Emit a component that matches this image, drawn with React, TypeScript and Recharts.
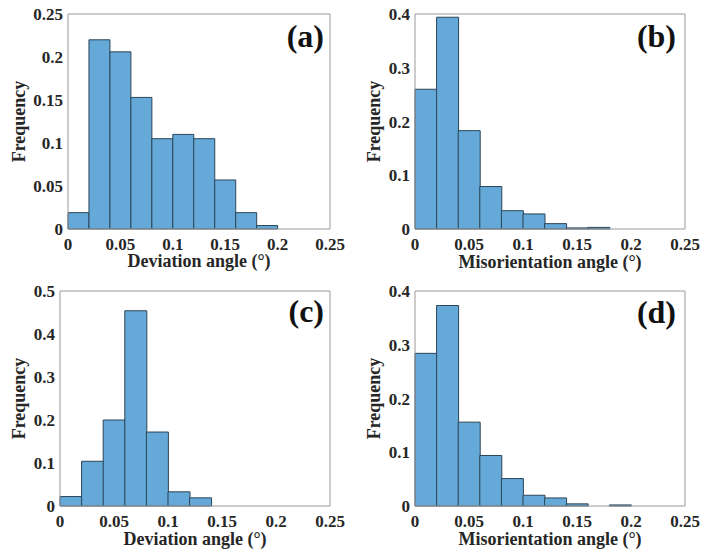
import { BarChart, Bar, XAxis, YAxis, Label } from 'recharts';

// histogram bins are 0.02 wide, values are bin frequencies
const binCenters = [0.01, 0.03, 0.05, 0.07, 0.09, 0.11, 0.13, 0.15, 0.17, 0.19];
const freqA = [0.019, 0.22, 0.206, 0.153, 0.105, 0.11, 0.105, 0.057, 0.019, 0.004];
const freqB = [0.26, 0.394, 0.183, 0.079, 0.034, 0.028, 0.01, 0.002, 0.003, 0];
const freqC = [0.022, 0.104, 0.2, 0.454, 0.172, 0.033, 0.019, 0, 0, 0];
const freqD = [0.284, 0.373, 0.156, 0.094, 0.051, 0.02, 0.015, 0.004, 0, 0.002];

const xTicks = [0, 0.05, 0.1, 0.15, 0.2, 0.25];
const yTicksA = [0, 0.05, 0.1, 0.15, 0.2, 0.25];
const yTicksB = [0, 0.1, 0.2, 0.3, 0.4];
const yTicksC = [0, 0.1, 0.2, 0.3, 0.4, 0.5];

const FONT = "'Liberation Serif', 'Times New Roman', serif";
const BOX = '#9a9a9a';
const TEXT = '#262626';
const FILL = '#64a9d8';
const EDGE = '#2c4558';

const toRows = (values: number[]) => binCenters.map((x, i) => ({ x, f: values[i] }));

interface PanelProps {
  values: number[];
  yTicks: number[];
  xLabel: string;
  left: number;
  top: number;
  height: number;
  plotLeft: number;
  plotRight: number;
  plotTop: number;
  plotBottom: number;
  yLabelOffset: number;
  xLabelOffset: number;
}

function Panel(p: PanelProps) {
  const width = 351;
  const yMax = p.yTicks[p.yTicks.length - 1];
  const tickStyle = { fontSize: 17, fontWeight: 'bold', fill: TEXT, fontFamily: FONT };
  const labelStyle = { fontSize: 18, fontWeight: 'bold', fill: TEXT, fontFamily: FONT };
  return (
    <div style={{ position: 'absolute', left: p.left, top: p.top }}>
      <BarChart
        width={width}
        height={p.height}
        data={toRows(p.values)}
        barCategoryGap={0}
        margin={{ top: p.plotTop, right: width - p.plotRight, bottom: 0, left: 0 }}
      >
        <XAxis
          dataKey="x"
          type="number"
          domain={[0, 0.25]}
          ticks={xTicks}
          height={p.height - p.plotBottom}
          tickLine={false}
          tickSize={0}
          tickMargin={9}
          axisLine={{ stroke: BOX }}
          tick={tickStyle}
        >
          <Label value={p.xLabel} position="insideBottom" offset={p.xLabelOffset} style={labelStyle} />
        </XAxis>
        <XAxis xAxisId="top" type="number" orientation="top" mirror domain={[0, 0.25]} ticks={xTicks}
          tick={false} tickSize={3} axisLine={{ stroke: BOX }} tickLine={{ stroke: BOX }} />
        <XAxis xAxisId="bottomTicks" type="number" orientation="bottom" mirror domain={[0, 0.25]} ticks={xTicks}
          tick={false} tickSize={3} axisLine={false} tickLine={{ stroke: BOX }} />
        <YAxis
          type="number"
          domain={[0, yMax]}
          ticks={p.yTicks}
          width={p.plotLeft}
          tickLine={false}
          tickSize={0}
          tickMargin={5}
          axisLine={{ stroke: BOX }}
          tick={tickStyle}
        >
          <Label value="Frequency" angle={-90} position="insideLeft" offset={p.yLabelOffset}
            style={{ ...labelStyle, textAnchor: 'middle' }} />
        </YAxis>
        <YAxis yAxisId="leftTicks" type="number" mirror domain={[0, yMax]} ticks={p.yTicks}
          tick={false} tickSize={3} axisLine={false} tickLine={{ stroke: BOX }} />
        <YAxis yAxisId="right" type="number" orientation="right" mirror domain={[0, yMax]} ticks={p.yTicks}
          tick={false} tickSize={3} axisLine={{ stroke: BOX }} tickLine={{ stroke: BOX }} />
        <Bar dataKey="f" fill={FILL} stroke={EDGE} strokeWidth={1} isAnimationActive={false} />
      </BarChart>
    </div>
  );
}

const tags = [
  { text: '(a)', x: 324, y: 47 },
  { text: '(b)', x: 676, y: 47 },
  { text: '(c)', x: 324, y: 322 },
  { text: '(d)', x: 676, y: 323 },
];

export default function App() {
  return (
    <div style={{ position: 'absolute', left: 0, top: 0, width: 702, height: 553, background: '#fff' }}>
      <Panel values={freqA} yTicks={yTicksA} xLabel="Deviation angle (°)" left={0} top={0} height={276}
        plotLeft={68} plotRight={330} plotTop={14} plotBottom={229} yLabelOffset={19} xLabelOffset={9} />
      <Panel values={freqB} yTicks={yTicksB} xLabel="Misorientation angle (°)" left={351} top={0} height={276}
        plotLeft={64} plotRight={334} plotTop={14} plotBottom={229} yLabelOffset={23} xLabelOffset={8} />
      <Panel values={freqC} yTicks={yTicksC} xLabel="Deviation angle (°)" left={0} top={276} height={277}
        plotLeft={60} plotRight={330} plotTop={15} plotBottom={230} yLabelOffset={19} xLabelOffset={8} />
      <Panel values={freqD} yTicks={yTicksB} xLabel="Misorientation angle (°)" left={351} top={276} height={277}
        plotLeft={64} plotRight={334} plotTop={15} plotBottom={230} yLabelOffset={23} xLabelOffset={8} />
      <svg width={702} height={553} style={{ position: 'absolute', left: 0, top: 0, pointerEvents: 'none' }}>
        {tags.map((t) => (
          <text key={t.text} x={t.x} y={t.y} textAnchor="end" fontFamily={FONT} fontWeight="bold" fontSize={32} fill="#111">
            {t.text}
          </text>
        ))}
      </svg>
    </div>
  );
}
